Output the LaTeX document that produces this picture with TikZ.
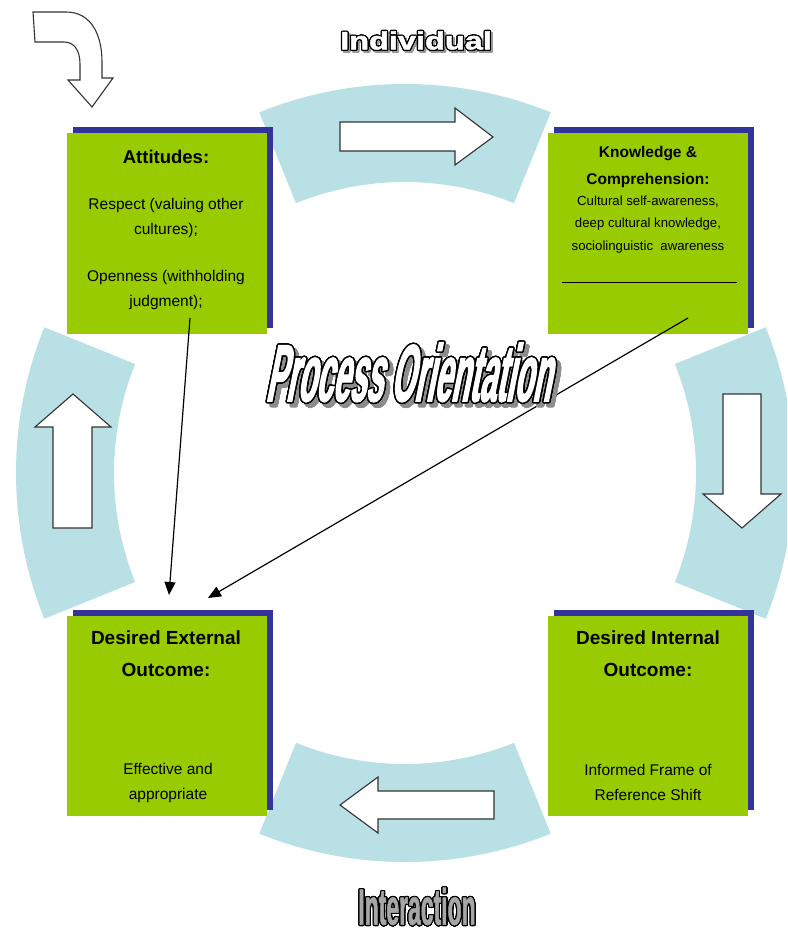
\documentclass[tikz,border=0pt]{standalone}
\usepackage{fontspec}
\setmainfont{Liberation Sans}
\newfontfamily\poFont[FakeStretch=0.37,FakeSlant=0.2,FakeBold=1.5]{Liberation Sans}
\newfontfamily\indFont[FakeStretch=1.3,FakeBold=2]{Liberation Sans}
\newfontfamily\intFont[FakeStretch=0.45,FakeBold=1]{Liberation Sans}
\usepackage{contour}
\contournumber{32}
\usetikzlibrary{arrows.meta,shadows}

\definecolor{boxgreen}{RGB}{153,204,0}
\definecolor{boxblue}{RGB}{51,51,153}
\definecolor{bandblue}{RGB}{185,224,228}

\tikzset{
  box/.style={fill=boxgreen, minimum width=200pt, minimum height=200pt, inner sep=0pt,
    drop shadow={shadow xshift=6pt, shadow yshift=6pt, fill=boxblue, opacity=1}},
  band/.style={fill=bandblue},
  blockarrow/.style={fill=white, draw=black!80, line width=1.1pt, line join=miter},
  boxtitle/.style={font=\bfseries\fontsize{19}{32}\selectfont, align=center, inner sep=0pt},
  boxtext/.style={font=\fontsize{15.5}{25}\selectfont, align=center, inner sep=0pt},
  smalltext/.style={font=\fontsize{13.2}{22.5}\selectfont, align=center, inner sep=0pt},
  conn/.style={line width=1.2pt, -{Triangle[length=13pt,width=11pt]}},
}

\begin{document}
\begin{tikzpicture}[x=1pt,y=-1pt]
\useasboundingbox (0,0) rectangle (787,933);
\clip (0,0) rectangle (787,933);

% ring of four curved bands around the centre
\foreach \p in {0,90,180,270}{
  \fill[band, shift={(405,473)}]
    ({-(\p-22)}:389) arc[start angle={-(\p-22)}, end angle={-(\p+22)}, radius=389]
    -- ({-(\p+22)}:291) arc[start angle={-(\p+22)}, end angle={-(\p-22)}, radius=291]
    -- cycle;
}

% block arrows on the bands
\draw[blockarrow] (340,122) -- (455,122) -- (455,108) -- (493,137) -- (455,165) -- (455,151) -- (340,151) -- cycle;
\draw[blockarrow] (723,394) -- (761,394) -- (761,494) -- (781,494) -- (742,528) -- (703,494) -- (723,494) -- cycle;
\draw[blockarrow] (494,791) -- (378,791) -- (378,777) -- (340,805) -- (378,833) -- (378,819) -- (494,819) -- cycle;
\draw[blockarrow] (53,528) -- (53,427) -- (35,427) -- (73,394) -- (111,427) -- (92,427) -- (92,528) -- cycle;

% entry arrow
\draw[blockarrow] (33,12) -- (66,12) .. controls (92,12) and (102,36) .. (102,62) -- (102,78)
  -- (113,78) -- (92,107) -- (68,80) -- (80,80) -- (80,64)
  .. controls (80,50) and (74,42) .. (64,42) -- (35,42) -- cycle;

% the four boxes
\node[box] (att) at (167,233.5) {};
\node[box] (know) at (648,233.5) {};
\node[box] (ext) at (167,715.5) {};
\node[box] (int) at (648,715.5) {};

% box texts
\node[boxtitle, font=\bfseries\fontsize{18.5}{24}\selectfont] (attT) at (166,157) {Attitudes:};
\node[boxtext] (attA) at (166,217.5) {Respect (valuing other\\cultures);};
\node[boxtext] (attB) at (166,289.5) {Openness (withholding\\judgment);};

\node[boxtitle, font=\bfseries\fontsize{15.5}{27}\selectfont] (knowT) at (648,166.5) {Knowledge \&\\Comprehension:};
\node[smalltext] (knowB) at (648,224.5) {Cultural self-awareness,\\deep cultural knowledge,\\sociolinguistic~ awareness};
\draw[line width=1pt] (562,282) -- (737,282);

\node[boxtitle] (extT) at (166,654) {Desired External\\Outcome:};
\node[boxtext] (extB) at (168,782.5) {Effective and\\appropriate};

\node[boxtitle] (intT) at (648,654) {Desired Internal\\Outcome:};
\node[boxtext] (intB) at (648,782.5) {Informed Frame of\\Reference Shift};

% connectors into the external outcome
\coordinate (attOut) at (190,318);
\coordinate (extIn1) at (169,595);
\coordinate (knowOut) at (688,318);
\coordinate (extIn2) at (208,598);
\draw[conn] (attOut) -- (extIn1);
\draw[conn] (knowOut) -- (extIn2);

% headings
\contourlength{1.4pt}
\node[inner sep=0pt, text=black!45, font=\poFont\bfseries\fontsize{81}{81}\selectfont] (poShadow) at (412,377) {\contour{black!45}{Process Orientation}};
\node[inner sep=0pt, text=white, font=\poFont\bfseries\fontsize{81}{81}\selectfont] (po) at (408,373) {\contour{black}{Process Orientation}};

\contourlength{1.1pt}
\node[inner sep=0pt, text=black!40, font=\indFont\bfseries\fontsize{25}{25}\selectfont] (indShadow) at (418,43) {\contour{black!40}{Individual}};
\node[inner sep=0pt, text=white, font=\indFont\bfseries\fontsize{25}{25}\selectfont] (ind) at (416,41) {\contour{black}{Individual}};

\node[inner sep=0pt, text=black!35, font=\intFont\bfseries\fontsize{51}{51}\selectfont] (inter) at (417,907) {\contour{black}{Interaction}};
\end{tikzpicture}
\end{document}
